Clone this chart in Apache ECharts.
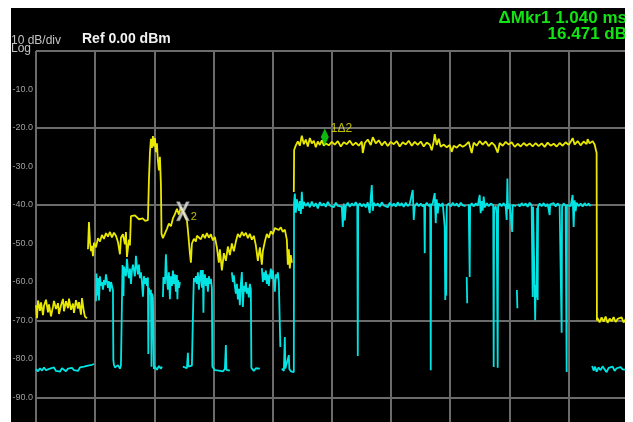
<!DOCTYPE html>
<html>
<head>
<meta charset="utf-8">
<script src="https://cdn.jsdelivr.net/npm/echarts@6/dist/echarts.min.js"></script>
<style>
  html, body { margin: 0; padding: 0; background: #fff; width: 633px; height: 422px; overflow: hidden; }
  #screen { position: absolute; left: 11px; top: 8px; width: 614px; height: 414px; background: #000; }
</style>
</head>
<body>
<div id="screen"></div>
<script>
// Sweep: display columns across 10 horizontal divisions
const sweepColumns = 592;
const sweepMs = 4.336;
const refLevelDb = 0;
const dbPerDiv = 10;
// Graticule lines that show on this display
const visibleGridDb = [0, -20, -40, -70, -90];

// Trace 1 (yellow): [column, dBm]
const yellowTrace = [
  [0,-66.0],[1,-69.4],[2,-64.8],[4,-67.5],[5,-65.3],[7,-68.6],[8,-66.2],[10,-64.6],[12,-67.9],[13,-65.8],
  [15,-68.9],[17,-66.4],[18,-64.9],[20,-67.0],[22,-65.5],[23,-68.3],[25,-66.1],[27,-64.4],[28,-67.6],[30,-65.0],
  [32,-66.8],[33,-64.3],[35,-67.2],[37,-65.6],[38,-68.0],[40,-64.7],[42,-66.9],[43,-65.2],[45,-68.5],[46,-64.2],
  [48,-67.8],[49,-69.0],[51,-69.4],[51.5,'-'],
  [52,-51.5],[53,-44.4],[54,-49.5],[55,-52.0],[56,-50.6],[57,-53.3],[58,-49.8],[60,-51.0],[62,-48.6],[64,-49.5],
  [66,-47.8],[68,-48.8],[70,-47.3],[72,-48.2],[74,-47.0],[76,-48.4],[78,-47.2],[80,-48.0],[82,-49.6],[84,-52.8],
  [85,-48.5],[87,-47.6],[89,-50.2],[90,-47.0],[91,-53.5],[93,-49.0],[94,-50.5],
  [95,-42.9],[97,-43.3],[99,-42.7],[101,-43.2],[103,-43.7],[105,-44.0],[107,-43.5],[109,-44.1],[111,-43.6],[112,-43.9],
  [113,-33.5],[114,-26.5],[115,-22.8],[116,-25.2],[117,-22.1],[118,-24.8],[119,-22.6],[120,-26.3],[121,-24.0],[122,-28.5],
  [123,-31.0],[124,-27.5],[125,-34.6],[125.6,-47.5],[127,-48.6],[129,-48.3],[131,-46.2],[133,-44.8],[135,-45.5],[137,-43.5],
  [139,-42.4],[141,-41.0],[143,-42.5],[145,-40.5],[147,-41.6],[149,-43.0],[151,-44.0],[152,-46.5],
  [154,-52.5],[155,-55.0],[156,-50.0],[158,-48.8],[160,-49.5],[161,-48.0],[163,-47.9],[165,-48.9],[167,-47.6],[169,-48.6],
  [171,-47.3],[173,-48.5],[175,-47.6],[177,-49.2],[179,-48.3],[181,-51.0],[183,-55.0],[184,-51.5],[186,-57.0],[188,-52.5],
  [190,-54.5],[192,-50.8],[194,-53.0],[196,-50.0],[198,-52.0],[200,-49.5],[202,-47.5],[204,-48.4],[206,-47.0],[208,-48.0],
  [210,-47.2],[212,-48.6],[214,-47.5],[216,-49.0],[218,-48.0],[220,-50.5],[222,-54.5],[224,-51.0],[226,-55.5],[227,-52.0],
  [229,-49.5],[231,-47.5],[233,-48.5],[235,-46.8],[237,-47.6],[239,-46.0],[241,-45.6],[243,-46.5],[245,-45.8],[247,-47.0],
  [249,-46.4],[251,-49.0],[252,-55.5],[253,-51.5],[254,-56.5],[255,-53.0],[256,-55.0],[257,'-'],
  [258,-36.6],[258.3,-25.7],[260,-24.5],[262,-23.5],[264,-24.6],[266,-22.0],[268,-24.2],[270,-23.0],[272,-24.8],[274,-22.6],
  [276,-24.0],[278,-23.3],[280,-25.0],[282,-23.5],[284,-24.4],[286,-23.2],[288,-24.6],[290,-24.0],[293,-24.5],[296,-23.6],
  [299,-24.3],[302,-23.4],[305,-24.8],[308,-23.7],[311,-24.2],[314,-23.3],[317,-24.5],[320,-23.8],[323,-24.6],[326,-23.5],
  [327,-26.5],[329,-23.9],[332,-23.0],[335,-24.4],[337,-22.4],[340,-24.0],[343,-23.2],[346,-24.5],[349,-23.5],[352,-24.7],
  [355,-23.6],[358,-24.2],[361,-23.4],[364,-24.8],[367,-23.7],[370,-24.3],[373,-23.3],[376,-24.6],[379,-23.6],[382,-24.4],
  [385,-23.5],[388,-24.8],[391,-23.8],[394,-24.3],[396,-25.8],[398,-23.5],[399,-21.6],[401,-24.4],[403,-22.8],[405,-24.9],
  [408,-24.3],[411,-25.0],[414,-24.4],[416,-26.2],[418,-24.6],[421,-25.1],[424,-24.3],[427,-24.9],[430,-24.4],[433,-23.6],
  [436,-26.5],[438,-23.8],[441,-24.6],[444,-23.4],[447,-24.3],[450,-23.5],[453,-24.7],[456,-23.8],[459,-24.5],[462,-26.4],
  [464,-23.9],[467,-24.6],[470,-23.6],[473,-24.3],[476,-23.7],[479,-24.9],[482,-24.1],[485,-24.8],[488,-23.9],[491,-24.6],
  [494,-24.0],[497,-24.8],[500,-23.9],[503,-24.7],[506,-24.0],[509,-24.9],[512,-23.8],[515,-24.6],[518,-24.1],[521,-24.8],
  [524,-23.9],[527,-24.6],[530,-23.7],[533,-24.4],[536,-23.2],[537,-22.6],[539,-24.3],[542,-23.4],[545,-24.5],[548,-23.5],
  [551,-24.2],[552,-22.9],[554,-24.0],[557,-23.4],[559,-24.3],[561,-26.5],[561.3,-70.0],[562,-69.4],[564,-70.5],[566,-69.2],
  [568,-70.3],[570,-69.0],[572,-70.6],[574,-69.5],[576,-70.2],[578,-69.1],[580,-70.4],[582,-69.6],[584,-70.0],[586,-69.2],
  [588,-70.5],[590,-69.7],[592,-70.1]
];

// Trace 2 (cyan): [column, dBm]
const cyanTrace = [
  [0,-82.6],[2,-83.2],[4,-82.4],[6,-83.0],[8,-82.2],[10,-82.9],[12,-83.4],[14,-82.5],[16,-82.9],[18,-82.2],
  [20,-83.1],[22,-82.6],[24,-83.3],[26,-82.4],[28,-82.8],[30,-83.2],[32,-82.5],[34,-83.0],[36,-82.3],[38,-82.9],
  [40,-82.6],[42,-83.1],[44,-82.2],[46,-82.7],[48,-82.0],[50,-82.5],[52,-81.7],[54,-82.2],[56,-81.5],[58,-81.3],[59,'-'],
  [60,-65.0],[60.5,-57.8],[61,-63.5],[62,-59.0],[63,-64.8],[64,-58.5],[65,-61.0],[66,-60.0],[67,-62.0],[68,-59.5],
  [69,-60.8],[70,-58.0],[71,-57.5],[72,-61.5],[73,-59.8],[74,-62.5],[75,-60.0],[76,-61.0],[77,-62.1],[77.4,-80.3],
  [78,-81.5],[79,-82.2],[80,-81.8],[81,-82.4],[82,-81.6],[83,-82.0],[84,-82.5],[85,-81.7],[86,-82.1],[86.6,-55.6],
  [87.5,-63.6],[88,-56.0],[90,-58.5],[91,-54.0],[92,-57.0],[93,-59.0],[94,-56.5],[95,-60.5],[96,-57.0],[97,-55.5],
  [99,-58.5],[100,-53.2],[101,-56.0],[102,-58.0],[103,-55.5],[104,-59.0],[105,-57.5],[106,-60.0],[107,-63.8],[108,-58.5],
  [109,-60.5],[110,-59.0],[111,-61.0],[112,-58.8],[112.4,-78.7],[113,-61.5],[114,-63.2],[115,-62.0],[115.6,-82.0],[116,-63.0],
  [117,-64.0],[118,-82.6],[119,-82.0],[121,-82.8],[123,-81.8],[125,-82.5],[126,-82.0],[126.5,'-'],
  [127,-63.9],[127.5,-58.7],[129,-60.5],[130,-52.8],[131,-59.0],[132,-62.0],[133,-57.5],[134,-64.5],[135,-58.5],[136,-61.0],
  [137,-57.0],[138,-60.5],[139,-58.0],[140,-62.5],[141,-58.2],[141.5,-64.5],[142,-59.5],[143,-61.5],[144,-60.0],[145,'-'],
  [147,-82.0],[149,-81.5],[151,-82.4],[152,-78.4],[152.5,-82.0],[154,-82.3],[156,-81.7],[157,-82.2],[157.5,-63.4],[158,-59.0],
  [159,-60.0],[160,-58.5],[161,-60.5],[162,-57.5],[163,-62.0],[164,-59.0],[165,-56.9],[166,-61.5],[167,-56.9],[167.5,-68.0],
  [168,-60.0],[169,-58.0],[170,-61.0],[171,-59.0],[172,-62.5],[173,-58.5],[174,-60.5],[175,-59.2],[176,-61.5],[176.5,-82.0],
  [177,-82.3],[179,-82.9],[181,-82.4],[183,-83.0],[185,-82.5],[187,-83.2],[189,-82.6],[190,-76.4],[190.5,-82.8],[192,-82.4],
  [194,-83.0],[195,'-'],
  [196,-57.5],[197,-60.0],[198,-58.3],[199,-61.0],[200,-63.0],[201,-60.5],[202,-64.5],[203,-61.8],[204,-66.0],[205,-60.5],
  [206,-57.4],[207,-66.5],[208,-61.0],[209,-62.5],[210,-60.0],[211,-63.0],[212,-61.5],[213,-64.0],[214,-60.5],[215,-62.0],
  [215.5,-82.3],[216,-82.6],[218,-83.1],[220,-82.4],[222,-82.9],[224,-82.5],[225,'-'],
  [226,-56.4],[227,-60.0],[228,-57.5],[229,-59.5],[230,-57.0],[231,-60.5],[232,-58.0],[233,-61.0],[234,-58.5],[235,-56.5],
  [236,-59.2],[237,-57.0],[238,-60.0],[239,-62.5],[240,-58.0],[241,-59.0],[242,-57.5],[243,-60.0],[244,-59.5],[244.5,-76.9],[245,'-'],
  [246,-82.5],[248,-83.1],[249,-74.3],[249.5,-82.5],[251,-82.9],[253,-79.0],[253.5,-82.6],[255,-83.2],[257,-82.8],[258,-83.4],
  [258.2,-39.7],[259,-37.0],[260,-42.0],[261,-38.5],[263,-41.5],[264,-39.0],[265,-42.3],[266,-36.6],[267,-41.0],[268,-39.2],
  [270,-40.3],[272,-39.4],[274,-40.6],[276,-39.1],[278,-40.4],[280,-39.5],[282,-40.9],[284,-39.3],[286,-40.2],[288,-39.6],
  [290,-40.5],[292,-39.2],[294,-40.1],[296,-39.7],[298,-40.6],[300,-39.4],[302,-40.2],[304,-39.8],[306,-40.4],[307,-45.7],
  [308,-39.6],[309,-44.0],[310,-40.3],[312,-39.4],[314,-40.5],[316,-39.6],[318,-40.2],[320,-39.3],[321.5,-40.0],[322,-79.2],
  [322.4,-40.3],[324,-39.5],[326,-40.4],[328,-39.7],[330,-40.6],[332,-39.3],[334,-42.1],[335,-38.0],[336,-34.8],[337,-41.5],
  [338,-39.4],[340,-40.2],[342,-39.6],[344,-40.5],[346,-39.3],[348,-40.1],[350,-39.7],[352,-40.6],[354,-39.4],[356,-40.3],
  [358,-39.6],[360,-40.4],[362,-39.3],[364,-40.2],[366,-39.5],[368,-40.5],[370,-39.4],[372,-40.3],[374,-39.7],[376,-40.2],
  [377,-36.1],[378,-43.9],[379,-40.4],[381,-39.5],[383,-40.3],[385,-39.6],[387,-40.4],[388.5,-39.8],[389,-52.5],[389.4,-40.1],
  [391,-39.4],[393,-40.3],[394.5,-39.7],[395,-82.9],[395.4,-40.2],[397,-39.5],[399,-36.9],[400,-44.7],[401,-38.5],[402,-42.2],
  [403,-39.6],[405,-40.3],[407,-39.5],[408.5,-40.0],[409,-45.7],[409.5,-64.7],[410,-60.8],[410.5,-63.5],[411,-40.2],[413,-39.6],
  [415,-40.4],[417,-39.4],[419,-40.2],[421,-39.6],[423,-40.5],[425,-39.4],[427,-40.1],[429,-39.7],[430,-40.3],[430.5,'-'],
  [431,-58.7],[431.5,-65.5],[432,'-'],[433,-39.8],[433.7,-40.1],[434,-58.7],[434.4,-40.3],[436,-39.5],[438,-40.4],[440,-39.6],
  [442,-40.2],[444,-37.4],[445,-42.1],[446,-39.0],[447,-41.5],[448,-37.8],[449,-40.6],[451,-39.5],[453,-40.3],[455,-39.6],
  [457.5,-40.0],[458,-82.1],[458.4,-41.0],[460,-40.3],[461,-42.1],[462,-82.3],[462.4,-40.5],[464,-39.6],[466,-40.3],[468,-39.5],
  [470,-40.4],[471,-43.9],[471.7,-33.1],[472.3,-41.0],[474,-39.7],[476,-40.2],[476.5,-47.0],[477,-40.0],[479,-39.5],[480.5,-40.3],
  [481,'-'],[481.2,-62.1],[481.7,-66.8],[482,'-'],[482.5,-39.7],[484,-40.4],[486,-39.5],[488,-40.2],[490,-39.6],[492,-40.5],
  [494,-39.4],[496,-40.1],[497,-63.9],[497.4,-40.5],[498.5,-40.0],[499,-62.0],[499.5,-69.9],[500,-60.8],[501,-64.0],[501.5,-40.8],
  [502,-64.7],[502.4,-40.4],[504,-39.6],[506,-40.3],[508,-39.5],[510,-40.4],[512,-39.7],[514,-42.6],[514.5,-39.8],[516,-40.3],
  [518,-39.5],[520,-40.4],[522,-39.6],[524,-40.2],[525.5,-39.7],[526,-73.2],[526.4,-40.5],[528,-39.6],[530,-40.2],[530.5,-39.9],
  [531,-83.4],[531.3,-40.0],[533,-39.5],[535,-40.3],[537,-37.4],[538,-45.7],[539,-38.8],[540,-41.6],[541,-39.4],[543,-40.3],
  [545,-39.6],[547,-40.4],[549,-39.5],[551,-40.2],[553,-39.6],[555,-40.3],[556,'-'],
  [556.5,-81.8],[558,-83.0],[559.5,-82.0],[561,-83.3],[563,-82.2],[565,-82.9],[567,-81.9],[569,-82.7],[571,-83.4],[573,-82.3],
  [575,-82.8],[577,-82.0],[579,-83.1],[581,-82.4],[583,-82.9],[585,-82.1],[587,-82.7],[589,-82.3],[591,-82.8]
];

// Delta marker readout: marker 1 relative to marker 2
const marker2Column = 147;
const marker1Db = -24.4;
const deltaMs = 1.040;
const deltaDb = 16.471;
const msPerColumn = sweepMs / sweepColumns;
const marker1Column = marker2Column + deltaMs / msPerColumn;
const marker2Db = marker1Db - deltaDb;

const GRID_COLOR = '#6b6b6b';
const YELLOW = '#e8e800';
const CYAN = '#00e4e4';
const GREEN = '#12e312';
const FONT = '"Liberation Sans", Arial, sans-serif';

const chart = echarts.init(document.getElementById('screen'), null, { renderer: 'canvas' });

function label(text, x, y, font, fill, align) {
  return {
    type: 'text', x: x, y: y, silent: true, z: 10,
    style: {
      text: text, font: font, fill: fill,
      align: align || 'left', verticalAlign: 'middle',
      textAlign: align || 'left', textVerticalAlign: 'middle'
    }
  };
}

chart.setOption({
  backgroundColor: '#000',
  animation: false,
  grid: { left: 25, top: 43, width: 591.6, height: 385, containLabel: false, outerBoundsMode: 'none' },
  xAxis: {
    type: 'value', min: 0, max: sweepColumns, interval: sweepColumns / 10,
    axisLine: { show: false }, axisTick: { show: false }, axisLabel: { show: false },
    splitLine: { show: true, lineStyle: { color: GRID_COLOR, width: 2 } }
  },
  yAxis: {
    type: 'value', min: refLevelDb - 10 * dbPerDiv, max: refLevelDb, interval: dbPerDiv,
    axisLine: { show: false }, axisTick: { show: false }, splitLine: { show: false },
    axisLabel: {
      color: '#a0a0a0', fontSize: 9, fontFamily: FONT, margin: 3,
      formatter: v => (v >= refLevelDb || v <= refLevelDb - 10 * dbPerDiv) ? '' : v.toFixed(1)
    }
  },
  graphic: [
    label('10 dB/div', 0, 32.5, '12px ' + FONT, '#c4c4c4'),
    label('Log', 0, 41, '12px ' + FONT, '#c4c4c4'),
    label('Ref 0.00 dBm', 71, 31.5, 'bold 14px ' + FONT, '#f2f2f2'),
    label('ΔMkr1 ' + deltaMs.toFixed(3) + ' ms', 616, 10, 'bold 17px ' + FONT, GREEN, 'right'),
    label(deltaDb.toFixed(3) + ' dB', 616, 26, 'bold 17px ' + FONT, GREEN, 'right')
  ],
  series: [
    {
      name: 'Trace 1', type: 'line', data: yellowTrace, showSymbol: false, connectNulls: false,
      lineStyle: { color: YELLOW, width: 1.8 }, itemStyle: { color: YELLOW }, z: 3, silent: true,
      markLine: {
        silent: true, symbol: 'none', z: 1, animation: false,
        label: { show: false },
        lineStyle: { color: GRID_COLOR, width: 2, type: 'solid' },
        data: visibleGridDb.map(v => ({ yAxis: v }))
      }
    },
    {
      name: 'Trace 2', type: 'line', data: cyanTrace, showSymbol: false, connectNulls: false,
      lineStyle: { color: CYAN, width: 1.8 }, itemStyle: { color: CYAN }, z: 4, silent: true
    },
    {
      name: 'Marker 1', type: 'scatter', data: [[marker1Column, marker1Db]], z: 6, silent: true,
      symbol: 'diamond', symbolSize: [8, 17], symbolOffset: [0, -8],
      itemStyle: { color: GREEN },
      label: { show: true, formatter: '1Δ2', position: 'right', offset: [-3, -8],
               color: YELLOW, fontSize: 12, fontFamily: FONT }
    },
    {
      name: 'Marker 2', type: 'scatter', data: [[marker2Column, marker2Db]], z: 6, silent: true,
      symbol: 'path://M0,0L3,0L6,5.6L9,0L12,0L7.6,8L12,16L9,16L6,10.4L3,16L0,16L4.4,8Z',
      symbolSize: [13, 19], symbolOffset: [0, 3],
      itemStyle: { color: '#ececec', borderColor: '#8a8a8a', borderWidth: 0.6 },
      label: { show: true, formatter: '2', position: 'right', offset: [-4, 6],
               color: YELLOW, fontSize: 11, fontFamily: FONT }
    }
  ]
});
</script>
</body>
</html>
